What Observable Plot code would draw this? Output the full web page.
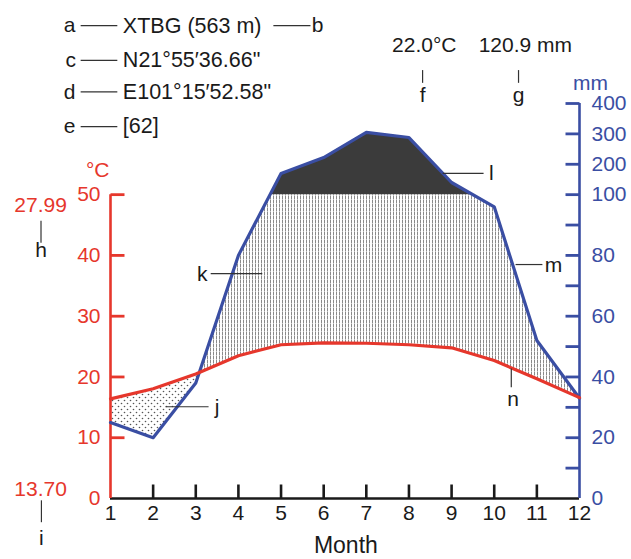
<!DOCTYPE html>
<html><head><meta charset="utf-8">
<script src="https://cdn.jsdelivr.net/npm/d3@7"></script>
<script src="https://cdn.jsdelivr.net/npm/@observablehq/plot@0.6"></script>
<style>html,body{margin:0;padding:0;background:#fff} svg{display:block}</style>
</head><body><div id="chart"></div>
<script>
// ---- data ----
const months = [1, 2, 3, 4, 5, 6, 7, 8, 9, 10, 11, 12];
const temperature = [16.4, 18.05, 20.5, 23.5, 25.3, 25.6, 25.55, 25.3, 24.8, 22.7, 19.7, 16.6]; // °C
const precipitation = [25, 20, 38, 80, 170, 222, 305, 288, 140, 96, 52, 33]; // mm
const monthTicks = [2, 3, 4, 5, 6, 7, 8, 9, 10, 11];
const tempLabels = [0, 10, 20, 30, 40, 50];
const tempTicks = [10, 20, 30, 40, 50];
const mmLabels = [0, 20, 40, 60, 80, 100, 200, 300, 400];
const mmTicks = [10, 20, 30, 40, 50, 60, 70, 80, 90, 100, 200, 300, 400];

// header block (x in months, y in °C-axis units)
const headerTexts = [
  {text: "XTBG (563 m)", x: 1.29, y: 77.8},
  {text: "N21°55′36.66\"", x: 1.29, y: 72.1},
  {text: "E101°15′52.58\"", x: 1.29, y: 66.9},
  {text: "[62]", x: 1.29, y: 61.2}
];
const blackLetters = [
  {text: "a", x: 0.04, y: 77.8}, {text: "b", x: 5.86, y: 77.8},
  {text: "c", x: 0.07, y: 72.1}, {text: "d", x: 0.04, y: 66.9},
  {text: "e", x: 0.04, y: 61.2},
  {text: "22.0°C", x: 8.36, y: 74.6}, {text: "120.9 mm", x: 10.73, y: 74.6},
  {text: "f", x: 8.32, y: 66.3}, {text: "g", x: 10.57, y: 66.3},
  {text: "h", x: -0.63, y: 40.8}, {text: "i", x: -0.62, y: -6.6},
  {text: "k", x: 3.15, y: 36.9}, {text: "l", x: 9.93, y: 53.5},
  {text: "m", x: 11.39, y: 38.4}, {text: "n", x: 10.44, y: 16.4},
  {text: "j", x: 3.50, y: 15.0}
];
const axisTitle = [{text: "Month", x: 6.52, y: -7.75}];
const redTexts = [
  {text: "°C", x: 0.70, y: 54.0},
  {text: "27.99", x: -0.64, y: 48.2},
  {text: "13.70", x: -0.64, y: 1.6}
];
const blueTexts = [{text: "mm", x: 12.26, y: 68.4}];
const leaders = [
  {x1: 0.30, y1: 77.8, x2: 1.16, y2: 77.8},
  {x1: 4.82, y1: 77.8, x2: 5.69, y2: 77.8},
  {x1: 0.30, y1: 72.1, x2: 1.16, y2: 72.1},
  {x1: 0.30, y1: 66.9, x2: 1.16, y2: 66.9},
  {x1: 0.30, y1: 61.2, x2: 1.16, y2: 61.2},
  {x1: 8.32, y1: 70.5, x2: 8.32, y2: 68.4},
  {x1: 10.57, y1: 70.5, x2: 10.57, y2: 68.4},
  {x1: -0.63, y1: 45.7, x2: -0.63, y2: 42.1},
  {x1: -0.62, y1: -0.3, x2: -0.62, y2: -3.9},
  {x1: 3.35, y1: 37.0, x2: 4.56, y2: 37.0},
  {x1: 8.79, y1: 53.5, x2: 9.75, y2: 53.5},
  {x1: 10.50, y1: 38.5, x2: 11.13, y2: 38.5},
  {x1: 10.40, y1: 21.4, x2: 10.40, y2: 18.3},
  {x1: 2.29, y1: 15.1, x2: 3.30, y2: 15.1}
];

// ---- styling ----
const red = "#e6372c", blue = "#3a4ea3", ink = "#1a1a1a";
// Walter–Lieth precipitation axis: 2 mm per °C up to 100 mm, then 20 mm per °C
const toAxis = p => p <= 100 ? p / 2 : 50 + (p - 100) / 20;
const fromAxis = v => v <= 50 ? v * 2 : 100 + (v - 50) * 20;

const tp = precipitation.map(toAxis);
const series = months.map((m, i) => ({month: m, t: temperature[i], p: tp[i]}));

// break segments where the precipitation line crosses the temperature line or the 100 mm line
const pts = [];
for (let i = 0; i < months.length - 1; i++) {
  const a = series[i], b = series[i + 1];
  const s = [0];
  const d0 = a.p - a.t, d1 = b.p - b.t;
  if (d0 * d1 < 0) s.push(d0 / (d0 - d1));
  const e0 = a.p - 50, e1 = b.p - 50;
  if (e0 * e1 < 0) s.push(e0 / (e0 - e1));
  s.sort((u, v) => u - v);
  for (const f of s) pts.push({x: a.month + f * (b.month - a.month), t: a.t + f * (b.t - a.t), p: a.p + f * (b.p - a.p)});
}
pts.push({x: series[11].month, t: series[11].t, p: series[11].p});

const tick = {draw(ctx, l) { ctx.moveTo(0, 0); ctx.lineTo(0, -l); }};
const font = "'Liberation Sans', Arial, Helvetica, sans-serif";

const chart = Plot.plot({
  width: 631, height: 559,
  marginLeft: 110, marginRight: 52, marginTop: 103, marginBottom: 61,
  x: {domain: [1, 12]},
  y: {domain: [0, toAxis(400)]},
  style: {fontFamily: font, fontSize: "21px", background: "#fff", color: ink, overflow: "hidden"},
  marks: [
    // humid (vertical hatch), arid (dots), perhumid (dark)
    Plot.areaY(pts, {x: "x", y1: "t", y2: d => Math.max(d.t, Math.min(d.p, 50)), fill: "url(#vhatch)"}),
    Plot.areaY(pts, {x: "x", y1: "p", y2: d => Math.max(d.p, d.t), fill: "url(#dots)"}),
    Plot.areaY(pts, {x: "x", y1: d => 50, y2: d => Math.max(50, d.p), fill: "#3b3b3b"}),
    // axis lines
    Plot.ruleY([0], {x1: d => 1, x2: d => 12, stroke: ink, strokeWidth: 2.5}),
    Plot.ruleX([1], {y1: d => 0, y2: d => 50, stroke: red, strokeWidth: 2.6}),
    Plot.ruleX([12], {y1: d => 0, y2: d => toAxis(400), stroke: blue, strokeWidth: 2.6}),
    // inward ticks
    Plot.vector(monthTicks, {x: d => d, y: d => 0, length: 14, rotate: 0, anchor: "start", shape: tick, stroke: ink, strokeWidth: 2.6, strokeLinecap: "butt"}),
    Plot.vector(tempTicks, {x: d => 1, y: d => d, length: 14, rotate: 90, anchor: "start", shape: tick, stroke: red, strokeWidth: 2.8, strokeLinecap: "butt"}),
    Plot.vector(mmTicks, {x: d => 12, y: d => toAxis(d), length: 14, rotate: -90, anchor: "start", shape: tick, stroke: blue, strokeWidth: 2.8, strokeLinecap: "butt"}),
    // axis labels
    Plot.axisX(months, {anchor: "bottom", tickSize: 0, tickPadding: 7, label: null, fill: ink, tickFormat: d => String(d)}),
    Plot.axisY(tempLabels, {anchor: "left", tickSize: 0, tickPadding: 10, label: null, fill: red, tickFormat: d => String(d)}),
    Plot.axisY(mmLabels.map(toAxis), {anchor: "right", tickSize: 0, tickPadding: 12, label: null, fill: blue, tickFormat: d => String(Math.round(fromAxis(d)))}),
    // data lines
    Plot.line(series, {x: "month", y: "p", stroke: blue, strokeWidth: 3.2, strokeLinejoin: "round"}),
    Plot.line(series, {x: "month", y: "t", stroke: red, strokeWidth: 3.2, strokeLinejoin: "round"}),
    // annotations
    Plot.link(leaders, {x1: "x1", y1: "y1", x2: "x2", y2: "y2", stroke: "#333", strokeWidth: 1.2}),
    Plot.text(headerTexts, {x: "x", y: "y", text: "text", textAnchor: "start", fill: ink, fontSize: 21.5}),
    Plot.text(blackLetters, {x: "x", y: "y", text: "text", fill: ink}),
    Plot.text(axisTitle, {x: "x", y: "y", text: "text", fill: ink, fontSize: 23}),
    Plot.text(redTexts, {x: "x", y: "y", text: "text", fill: red}),
    Plot.text(blueTexts, {x: "x", y: "y", text: "text", fill: blue})
  ]
});

const defs = d3.select(chart).append("defs");
const vh = defs.append("pattern").attr("id", "vhatch").attr("patternUnits", "userSpaceOnUse").attr("width", 3).attr("height", 4);
vh.append("rect").attr("width", 3).attr("height", 4).attr("fill", "#fff");
vh.append("rect").attr("x", 0).attr("y", 0).attr("width", 1).attr("height", 4).attr("fill", "#8a8a8a");
vh.append("rect").attr("x", 0).attr("y", 3).attr("width", 1).attr("height", 1).attr("fill", "#c4c4c4");
const dp = defs.append("pattern").attr("id", "dots").attr("patternUnits", "userSpaceOnUse").attr("width", 6).attr("height", 6);
dp.append("rect").attr("width", 6).attr("height", 6).attr("fill", "#fff");
dp.append("circle").attr("cx", 1.5).attr("cy", 1.5).attr("r", 0.8).attr("fill", "#555");
dp.append("circle").attr("cx", 4.5).attr("cy", 4.5).attr("r", 0.8).attr("fill", "#555");

document.getElementById("chart").appendChild(chart);
</script>
</body></html>
